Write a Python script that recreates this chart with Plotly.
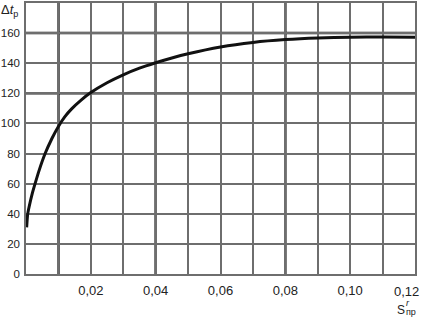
import plotly.graph_objects as go

# Data
x_vals = [0.0002, 0.0005, 0.001, 0.002, 0.0028, 0.004, 0.0059, 0.008, 0.010, 0.012,
          0.014, 0.017, 0.020, 0.025, 0.030, 0.035, 0.040, 0.045, 0.050, 0.060,
          0.070, 0.080, 0.090, 0.100, 0.110, 0.120]
y_vals = [31, 39.5, 45, 54, 60, 68.5, 80, 90, 98, 104.5,
          109.5, 115.5, 120.5, 127, 132.3, 136.7, 140.3, 143.5, 146.3, 150.8,
          153.8, 155.7, 156.8, 157.3, 157.4, 157.2]

x_ticks = [0.02, 0.04, 0.06, 0.08, 0.10]
x_ticktext = ["0,02", "0,04", "0,06", "0,08", "0,10"]
x_grid = [0.01 * i for i in range(1, 12)]
y_ticks = [0, 20, 40, 60, 80, 100, 120, 140, 160]
y_ticktext = ["0", "20", "40", "60", "80", "100", "120", "140", "160"]
thick_x = [0.01, 0.04, 0.08]
thick_y = [120, 160]

FONT = "Liberation Sans, Arial, sans-serif"
GRID = "#6e6e6e"
DARK = "#1c1c1c"
TXT = "#222222"

fig = go.Figure()
fig.add_trace(go.Scatter(x=x_vals, y=y_vals, mode="lines",
                         line=dict(color="#111111", width=3, shape="spline", smoothing=0.5),
                         hoverinfo="skip", showlegend=False))

shapes = []
for xv in thick_x:
    shapes.append(dict(type="line", xref="x", yref="y", x0=xv, x1=xv, y0=0, y1=180,
                       line=dict(color=DARK, width=2.5), layer="below"))
for yv in thick_y:
    shapes.append(dict(type="line", xref="x", yref="y", x0=0, x1=0.12, y0=yv, y1=yv,
                       line=dict(color=DARK, width=2.5), layer="below"))

fig.update_layout(
    width=423, height=320,
    margin=dict(l=26, r=8, t=3, b=46),
    paper_bgcolor="white", plot_bgcolor="white",
    shapes=shapes,
    xaxis=dict(range=[0, 0.12], tickvals=x_ticks, ticktext=x_ticktext,
               showgrid=True, gridcolor=GRID, gridwidth=1.5,
               minor=dict(tickvals=x_grid, showgrid=True, gridcolor=GRID, gridwidth=1.5, ticks=""),
               showline=True, linecolor=GRID, linewidth=1.5, mirror=True,
               zeroline=False, ticks="", ticklabelstandoff=4, automargin=False,
               tickfont=dict(family=FONT, size=13, color=TXT)),
    yaxis=dict(range=[0, 180], tickvals=y_ticks, ticktext=y_ticktext,
               showgrid=True, gridcolor=GRID, gridwidth=1.5,
               showline=True, linecolor=GRID, linewidth=1.5, mirror=True,
               zeroline=False, ticks="", ticklabelstandoff=2, automargin=False,
               tickfont=dict(family=FONT, size=11.5, color=TXT)),
    annotations=[
        dict(xref="paper", yref="paper", x=0, y=1, xanchor="right", yanchor="top",
             xshift=-6, yshift=3, showarrow=False,
             text="Δ<i>t</i><sub>р</sub>", font=dict(family=FONT, size=13, color=TXT)),
        dict(xref="paper", yref="paper", x=0.977, y=-0.0646, xanchor="center", yanchor="middle",
             showarrow=False, text="0,12", font=dict(family=FONT, size=13, color=TXT)),
        dict(xref="paper", yref="paper", x=0.964, y=-0.133, xanchor="center", yanchor="middle",
             showarrow=False, text="S", font=dict(family=FONT, size=12, color=TXT)),
        dict(xref="paper", yref="paper", x=0.981, y=-0.106, xanchor="center", yanchor="middle",
             showarrow=False, text="<i>r</i>", font=dict(family=FONT, size=9, color=TXT)),
        dict(xref="paper", yref="paper", x=0.991, y=-0.139, xanchor="center", yanchor="middle",
             showarrow=False, text="пр", font=dict(family=FONT, size=9, color=TXT)),
    ],
)

fig.write_html("out.html")
